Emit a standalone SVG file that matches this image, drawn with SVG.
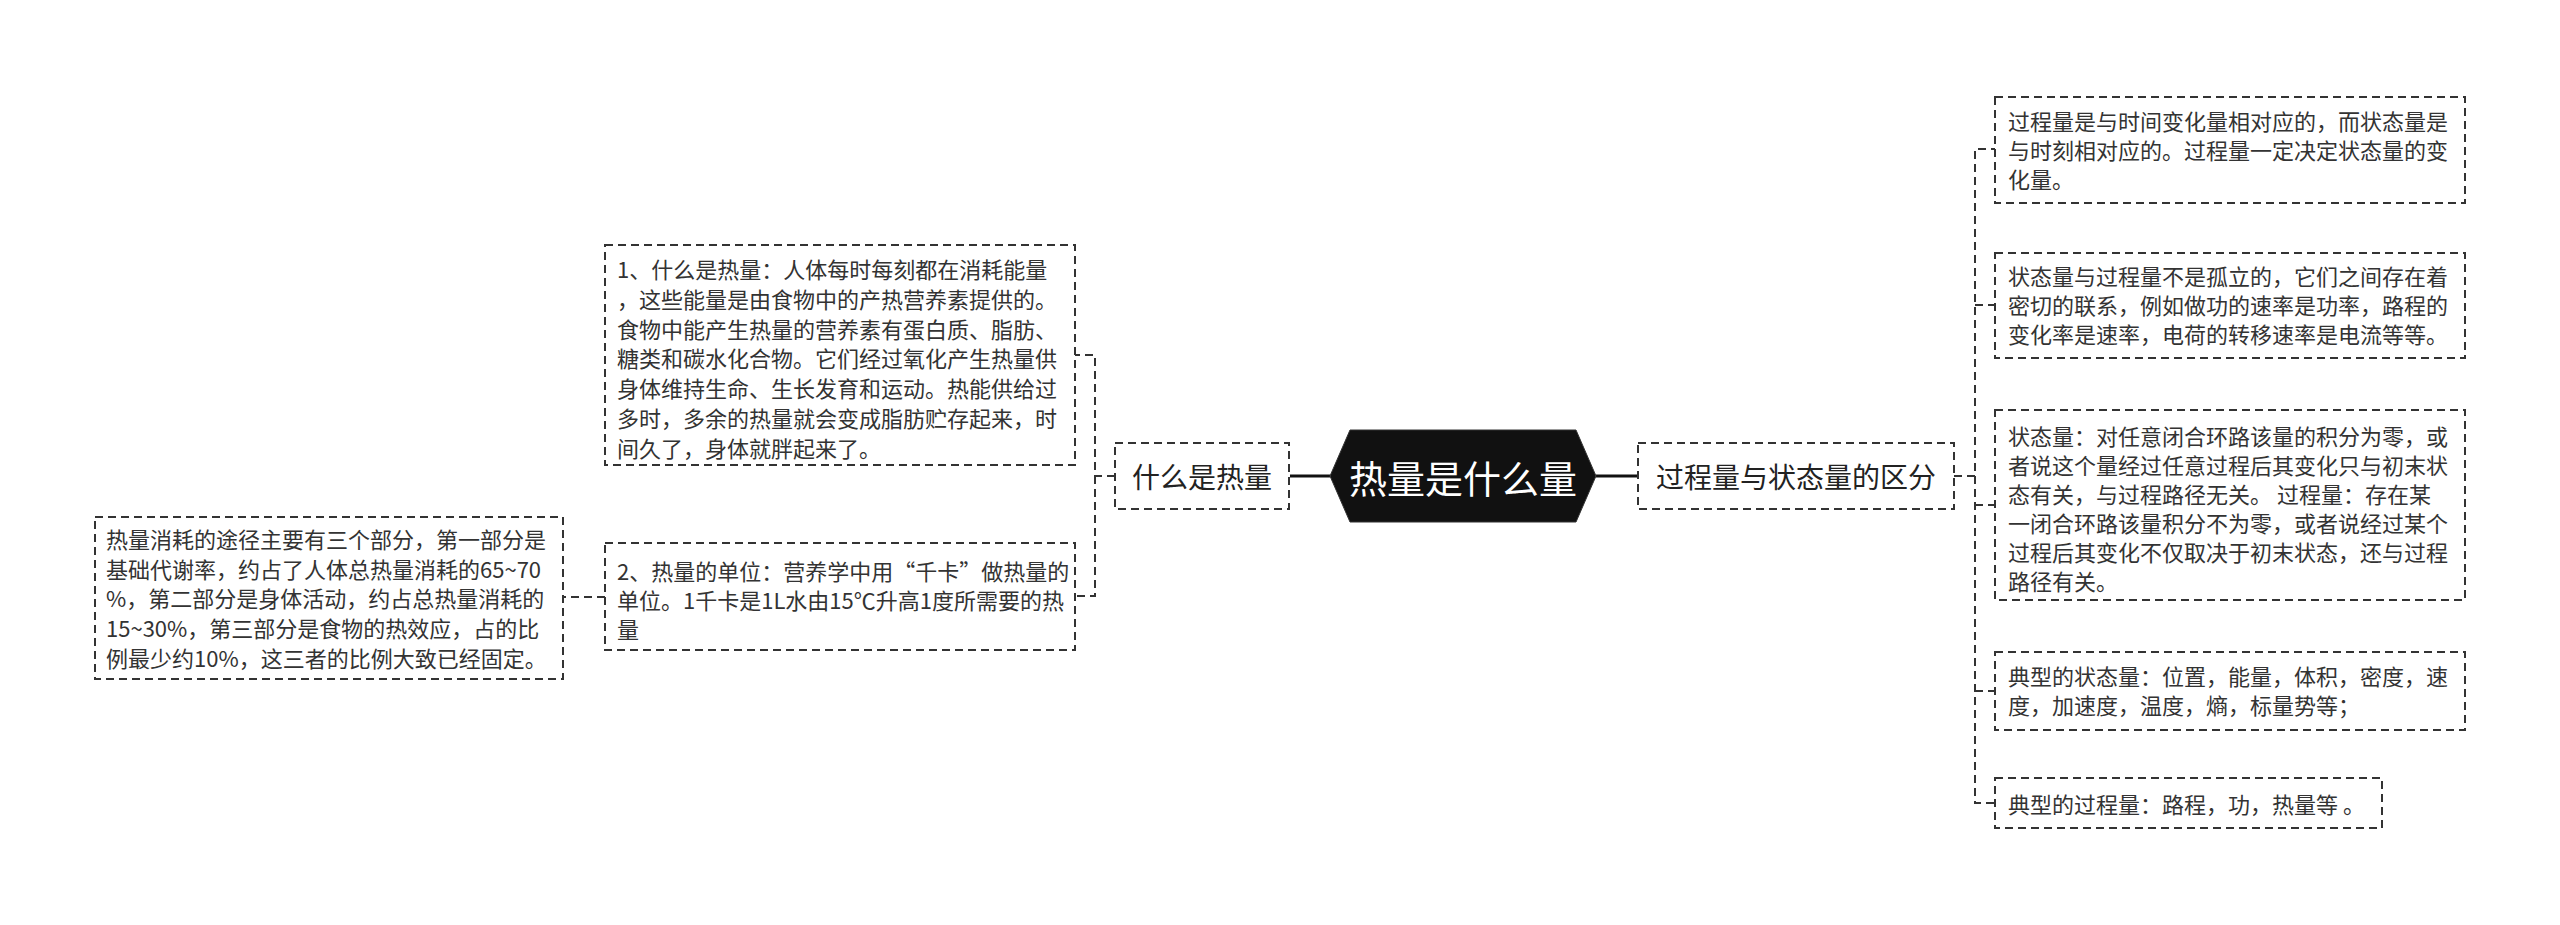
<svg xmlns="http://www.w3.org/2000/svg" width="2560" height="925" viewBox="0 0 2560 925">
<style>
.box{fill:#fff;stroke:#333;stroke-width:2;stroke-dasharray:8 5}
.t{font-family:"Noto Sans CJK SC",sans-serif;font-size:22px;fill:#333;dominant-baseline:central}
.lbl{font-family:"Noto Sans CJK SC",sans-serif;font-size:28px;fill:#222;dominant-baseline:central;text-anchor:middle}
.conn{fill:none;stroke:#333;stroke-width:2;stroke-dasharray:8 5}
.solid{fill:none;stroke:#111;stroke-width:3}
</style>
<rect width="2560" height="925" fill="#fff"/>
<g id="connectors">
<path class="solid" d="M1290 476 L1330 476"/>
<path class="solid" d="M1596 476 L1638 476"/>
<path class="conn" d="M1115 476 L1095 476 L1095 355 L1075 355"/>
<path class="conn" d="M1095 476 L1095 596 L1075 596"/>
<path class="conn" d="M605 597 L563 597"/>
<path class="conn" d="M1954 476 L1975 476 L1975 149 L1995 149"/>
<path class="conn" d="M1975 305 L1995 305"/>
<path class="conn" d="M1975 476 L1975 803 L1995 803"/>
<path class="conn" d="M1975 505 L1995 505"/>
<path class="conn" d="M1975 691 L1995 691"/>
</g>
<g id="root">
<polygon points="1330,476 1350,430 1576,430 1596,476 1576,522 1350,522" fill="#111" stroke="#333" stroke-width="1"/>
<text x="1463" y="476" font-family="Noto Sans CJK SC, sans-serif" font-size="38" fill="#fff" text-anchor="middle" dominant-baseline="central">热量是什么量</text>
</g>
<g id="n-what">
<rect class="box" x="1115" y="443" width="174" height="66"/>
<text class="lbl" x="1202" y="476">什么是热量</text>
</g>
<g id="n-diff">
<rect class="box" x="1638" y="443" width="316" height="66"/>
<text class="lbl" x="1796" y="476">过程量与状态量的区分</text>
</g>
<g id="n-def">
<rect class="box" x="605" y="245" width="470" height="220"/>
<text class="t" x="617" y="268">1、什么是热量：人体每时每刻都在消耗能量</text>
<text class="t" x="617" y="298">，这些能量是由食物中的产热营养素提供的。</text>
<text class="t" x="617" y="328">食物中能产生热量的营养素有蛋白质、脂肪、</text>
<text class="t" x="617" y="357">糖类和碳水化合物。它们经过氧化产生热量供</text>
<text class="t" x="617" y="387">身体维持生命、生长发育和运动。热能供给过</text>
<text class="t" x="617" y="417">多时，多余的热量就会变成脂肪贮存起来，时</text>
<text class="t" x="617" y="447">间久了，身体就胖起来了。</text>
</g>
<g id="n-unit">
<rect class="box" x="605" y="543" width="470" height="107"/>
<text class="t" x="617" y="570">2、热量的单位：营养学中用“千卡”做热量的</text>
<text class="t" x="617" y="599">单位。1千卡是1L水由15℃升高1度所需要的热</text>
<text class="t" x="617" y="628">量</text>
</g>
<g id="n-consume">
<rect class="box" x="95" y="517" width="468" height="162"/>
<text class="t" x="106" y="538">热量消耗的途径主要有三个部分，第一部分是</text>
<text class="t" x="106" y="568">基础代谢率，约占了人体总热量消耗的65~70</text>
<text class="t" x="106" y="597">%，第二部分是身体活动，约占总热量消耗的</text>
<text class="t" x="106" y="627">15~30%，第三部分是食物的热效应，占的比</text>
<text class="t" x="106" y="657">例最少约10%，这三者的比例大致已经固定。</text>
</g>
<g id="n-a">
<rect class="box" x="1995" y="97" width="470" height="106"/>
<text class="t" x="2008" y="120">过程量是与时间变化量相对应的，而状态量是</text>
<text class="t" x="2008" y="149">与时刻相对应的。过程量一定决定状态量的变</text>
<text class="t" x="2008" y="178">化量。</text>
</g>
<g id="n-b">
<rect class="box" x="1995" y="253" width="470" height="105"/>
<text class="t" x="2008" y="275">状态量与过程量不是孤立的，它们之间存在着</text>
<text class="t" x="2008" y="304">密切的联系，例如做功的速率是功率，路程的</text>
<text class="t" x="2008" y="333">变化率是速率，电荷的转移速率是电流等等。</text>
</g>
<g id="n-c">
<rect class="box" x="1995" y="410" width="470" height="190"/>
<text class="t" x="2008" y="435">状态量：对任意闭合环路该量的积分为零，或</text>
<text class="t" x="2008" y="464">者说这个量经过任意过程后其变化只与初末状</text>
<text class="t" x="2008" y="493">态有关，与过程路径无关。 过程量：存在某</text>
<text class="t" x="2008" y="522">一闭合环路该量积分不为零，或者说经过某个</text>
<text class="t" x="2008" y="551">过程后其变化不仅取决于初末状态，还与过程</text>
<text class="t" x="2008" y="580">路径有关。</text>
</g>
<g id="n-d">
<rect class="box" x="1995" y="652" width="470" height="78"/>
<text class="t" x="2008" y="675">典型的状态量：位置，能量，体积，密度，速</text>
<text class="t" x="2008" y="704">度，加速度，温度，熵，标量势等；</text>
</g>
<g id="n-e">
<rect class="box" x="1995" y="778" width="387" height="50"/>
<text class="t" x="2008" y="803">典型的过程量：路程，功，热量等 。</text>
</g>
</svg>
